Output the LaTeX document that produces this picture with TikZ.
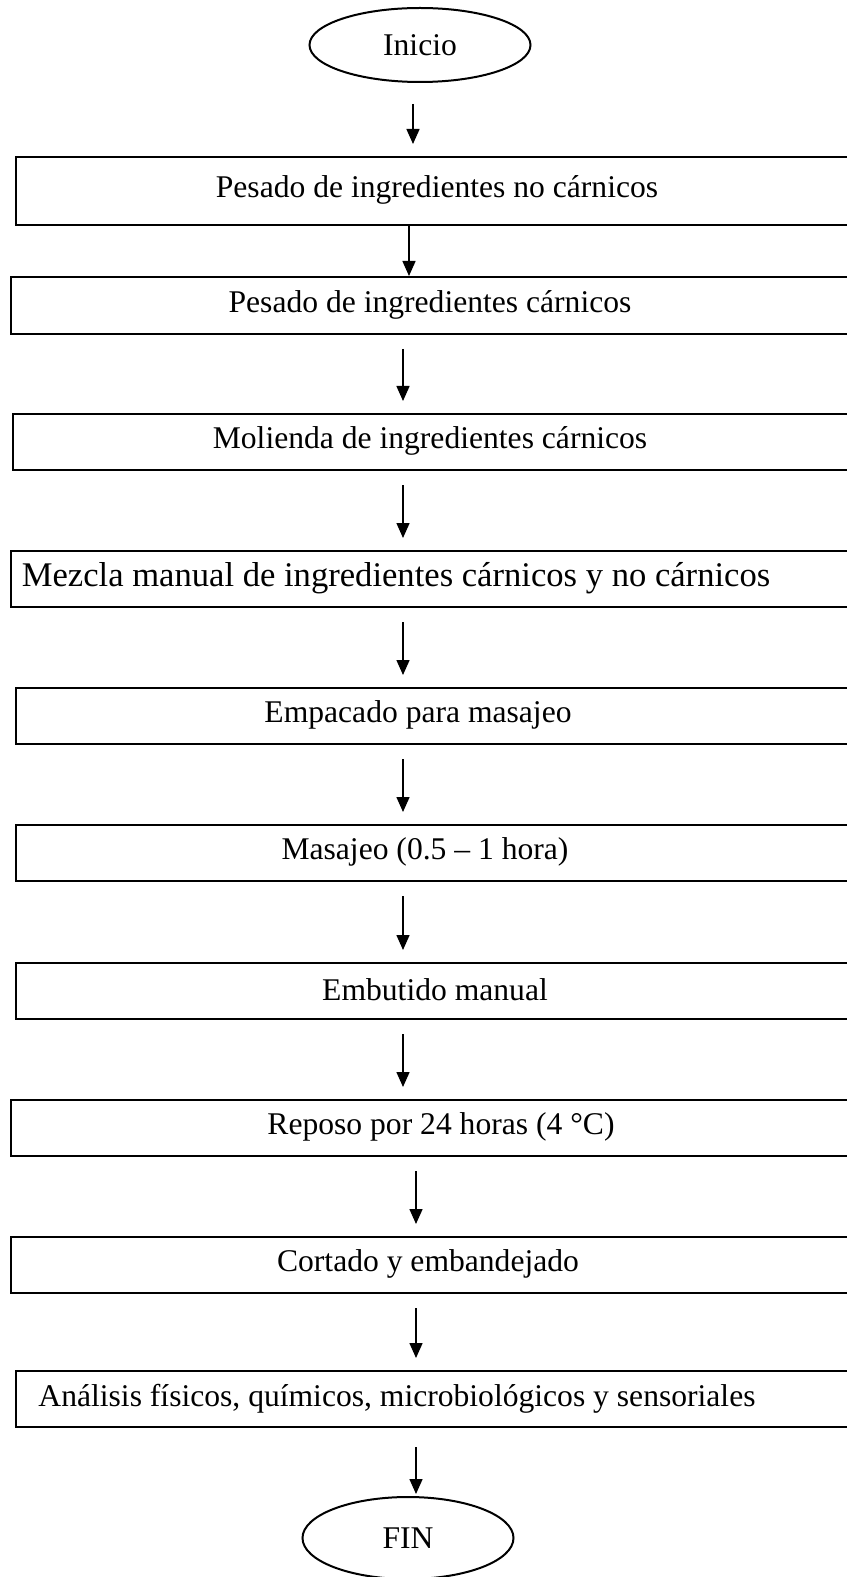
\documentclass[tikz,border=0pt]{standalone}
\usepackage{fontspec}
\setmainfont{Liberation Serif}
\usetikzlibrary{arrows.meta,shapes.geometric}

\begin{document}
\begin{tikzpicture}[
  x=0.5pt,y=-0.5pt,
  font=\fontsize{15.8pt}{18pt}\selectfont,
  >={Triangle[length=7.5pt,width=6.5pt]},
  extremo/.style={draw,ellipse,line width=1pt,inner sep=0pt},
  caja/.style={draw,line width=1pt,anchor=north west,inner sep=0pt,minimum height=28pt},
  texto/.style={inner sep=0pt},
  flecha/.style={->,line width=0.75pt,shorten <=7pt,shorten >=6pt},
]
\useasboundingbox (0,0) rectangle (846,1577);

% ejes de las flechas
\coordinate (ejeA) at (413,0);
\coordinate (ejeB) at (409,0);
\coordinate (ejeC) at (403,0);
\coordinate (ejeD) at (416,0);

% inicio y fin
\node[extremo,minimum width=110.5pt,minimum height=37pt] (inicio) at (420,45) {Inicio};
\node[extremo,minimum width=105.5pt,minimum height=41pt] (fin) at (408,1538) {FIN};

% pasos del proceso
\node[caja,minimum width=427.5pt,minimum height=34pt] (b1) at (15,156) {};
\node[caja,minimum width=430pt,minimum height=28.5pt] (b2) at (10,276) {};
\node[caja,minimum width=429pt] (b3) at (12,413) {};
\node[caja,minimum width=430pt] (b4) at (10,550) {};
\node[caja,minimum width=427.5pt] (b5) at (15,687) {};
\node[caja,minimum width=427.5pt] (b6) at (15,824) {};
\node[caja,minimum width=427.5pt] (b7) at (15,962) {};
\node[caja,minimum width=430pt] (b8) at (10,1099) {};
\node[caja,minimum width=430pt] (b9) at (10,1236) {};
\node[caja,minimum width=427.5pt] (b10) at (15,1370) {};

\node[texto] (t1) at (437,190) {Pesado de ingredientes no cárnicos};
\node[texto] (t2) at (430,304.5) {Pesado de ingredientes cárnicos};
\node[texto] (t3) at (430,441) {Molienda de ingredientes cárnicos};
\node[texto,font=\fontsize{17.3pt}{20pt}\selectfont] (t4) at (396,578) {Mezcla manual de ingredientes cárnicos y no cárnicos};
\node[texto] (t5) at (418,715) {Empacado para masajeo};
\node[texto] (t6) at (425,852) {Masajeo (0.5 – 1 hora)};
\node[texto] (t7) at (435,990) {Embutido manual};
\node[texto] (t8) at (441,1127) {Reposo por 24 horas (4 °C)};
\node[texto] (t9) at (428,1264) {Cortado y embandejado};
\node[texto] (t10) at (397,1399) {Análisis físicos, químicos, microbiológicos y sensoriales};

% flechas
\draw[flecha,shorten <=10.5pt] (inicio.south -| ejeA) -- (b1.north -| ejeA);
\draw[flecha,shorten <=0pt,shorten >=0pt] (b1.south -| ejeB) -- (b2.north -| ejeB);
\draw[flecha] (b2.south -| ejeC) -- (b3.north -| ejeC);
\draw[flecha] (b3.south -| ejeC) -- (b4.north -| ejeC);
\draw[flecha] (b4.south -| ejeC) -- (b5.north -| ejeC);
\draw[flecha] (b5.south -| ejeC) -- (b6.north -| ejeC);
\draw[flecha] (b6.south -| ejeC) -- (b7.north -| ejeC);
\draw[flecha] (b7.south -| ejeC) -- (b8.north -| ejeC);
\draw[flecha] (b8.south -| ejeD) -- (b9.north -| ejeD);
\draw[flecha] (b9.south -| ejeD) -- (b10.north -| ejeD);
\draw[flecha,shorten <=9.5pt,shorten >=1pt] (b10.south -| ejeD) -- (fin.north -| ejeD);
\end{tikzpicture}
\end{document}
